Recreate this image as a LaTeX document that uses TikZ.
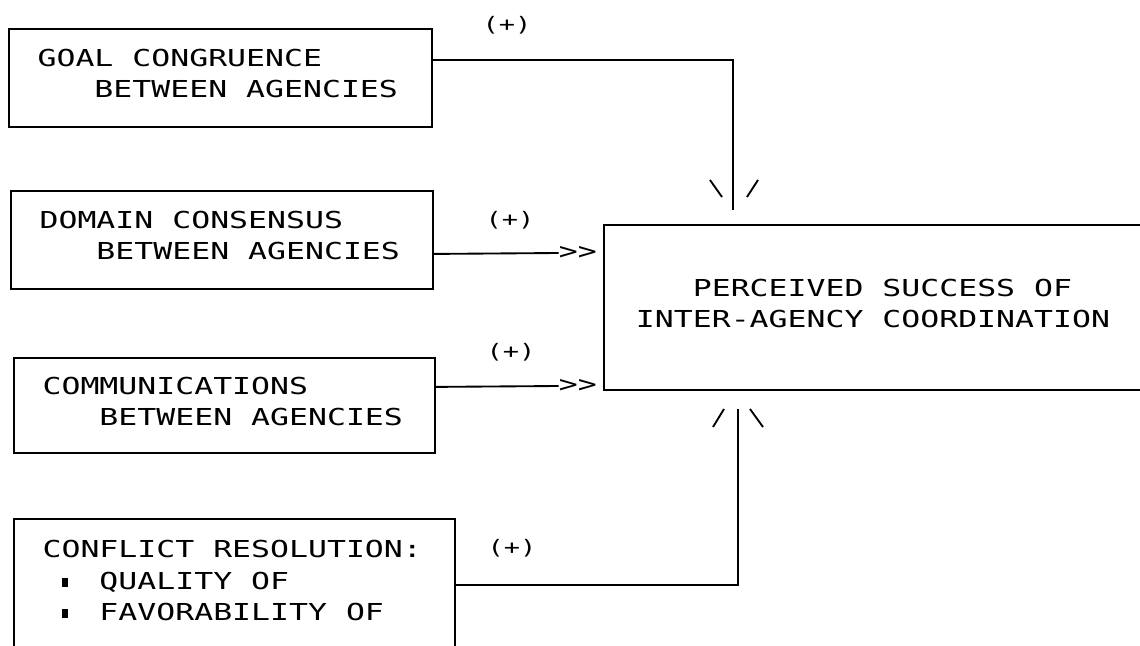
\documentclass[tikz,border=0pt]{standalone}
\usepackage{fontspec}
\newfontfamily\plotfont{DejaVu Sans Mono}[FakeStretch=1.35]
\usetikzlibrary{positioning}

\newcommand\blank{\phantom{X}}
\newcommand\indentby{\phantom{XXX}}
\newcommand\sqbullet{\phantom{X}\rlap{\rule[2pt]{4.5pt}{6.5pt}}\phantom{XX}}

\tikzset{
  varbox/.style={draw, line width=1.4pt, anchor=north west, align=left,
    inner xsep=21.5pt, inner ysep=0pt, text depth=30pt,
    font=\plotfont\fontsize{17.5}{23.5}\selectfont},
  link/.style={line width=1.4pt},
  sign/.style={font=\plotfont\fontsize{15}{17}\selectfont, inner sep=0pt},
  tip/.style={font=\plotfont\fontsize{17.5}{20}\selectfont, inner sep=0pt, anchor=east},
  downtip/.pic={\draw[link] (-23,-30) -- (-11,-13) (14,-13) -- (25,-30);},
  uptip/.pic={\draw[link] (-25,18) -- (-14,0) (12,0) -- (25,18);}
}

\begin{document}
\begin{tikzpicture}[x=0.75pt, y=-0.75pt]
  \useasboundingbox (0,0) rectangle (1140,646);
  \clip (0,0) rectangle (1140,646);

  % Factor boxes
  \node[varbox, text width=274pt, minimum height=73.5pt] (goal) at (8,28)
    {GOAL\blank CONGRUENCE\\\indentby BETWEEN\blank AGENCIES};
  \node[varbox, text width=273.5pt, minimum height=73.5pt] (domain) at (10,190)
    {DOMAIN\blank CONSENSUS\\\indentby BETWEEN\blank AGENCIES};
  \node[varbox, text width=272.75pt, minimum height=71.25pt] (comm) at (13,357)
    {COMMUNICATIONS\\\indentby BETWEEN\blank AGENCIES};
  \node[varbox, text width=287.75pt, minimum height=99pt, text depth=53.5pt] (conflict) at (13,518)
    {CONFLICT\blank RESOLUTION:\\\sqbullet QUALITY\blank OF\\\sqbullet FAVORABILITY\blank OF};

  % Outcome box
  \node[varbox, text width=362pt, minimum height=123.75pt, inner xsep=24pt] (success) at (603,224)
    {\indentby PERCEIVED\blank SUCCESS\blank OF\\INTER-AGENCY\blank COORDINATION};

  % Arrow heads
  \node[tip] (domarrow) at (597,253) {>{}>};
  \node[tip] (commarrow) at (597,386) {>{}>};
  \coordinate (goaltip) at (733,210);
  \coordinate (conftip) at (738,409);

  % Connectors
  \draw[link] ([yshift=13.5pt]goal.east) -| (goaltip);
  \draw[link] ([yshift=-10.5pt]domain.east) -- (domarrow.west);
  \draw[link] ([yshift=13.9pt]comm.east) -- (commarrow.west);
  \draw[link] (conflict.east) -| (conftip);
  \pic at (goaltip) {downtip};
  \pic at (conftip) {uptip};

  % Signs
  \node[sign] (goalsign) at (507,25) {(+)};
  \node[sign] (domsign) at (510,220) {(+)};
  \node[sign] (commsign) at (511,352) {(+)};
  \node[sign] (confsign) at (512,548) {(+)};
\end{tikzpicture}
\end{document}
